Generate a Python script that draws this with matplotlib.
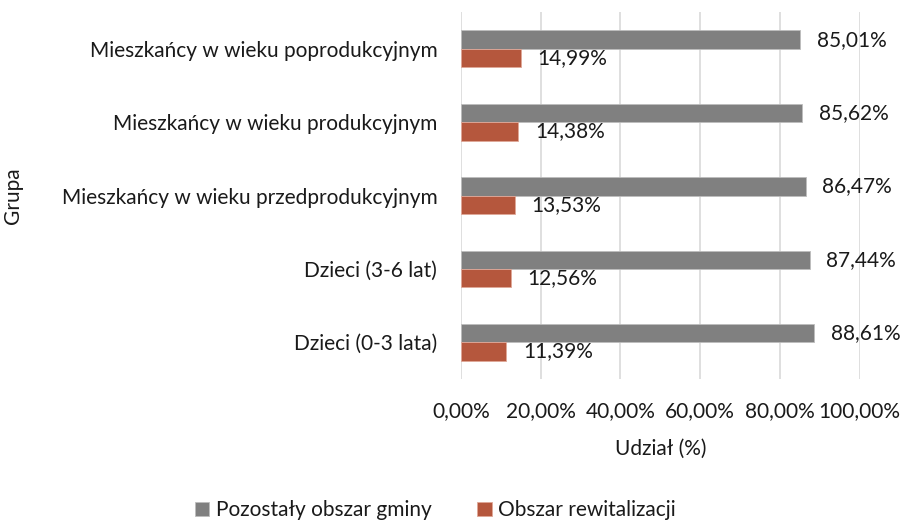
import numpy as np
import matplotlib.pyplot as plt

plt.rcParams['font.family'] = ['Lato', 'DejaVu Sans']

groups = ['Mieszkańcy w wieku poprodukcyjnym', 'Mieszkańcy w wieku produkcyjnym',
          'Mieszkańcy w wieku przedprodukcyjnym', 'Dzieci (3-6 lat)', 'Dzieci (0-3 lata)']
pozostaly = [85.01, 85.62, 86.47, 87.44, 88.61]
rewitalizacja = [14.99, 14.38, 13.53, 12.56, 11.39]
x_ticks = [0, 20, 40, 60, 80, 100]

c_grey = '#808080'
c_red = '#b5573d'
fs = 15

def pl(v):
    return '{:.2f}%'.format(v).replace('.', ',')

fig = plt.figure(figsize=(9.03, 5.26), dpi=100)
ax = fig.add_axes([0.5105, 0.2795, 0.4415, 0.6975])

y = np.arange(len(groups))
h = 0.25
b1 = ax.barh(y - h / 2, pozostaly, h, color=c_grey, edgecolor='#bdbdbd', linewidth=0.6,
             label='Pozostały obszar gminy')
b2 = ax.barh(y + h / 2, rewitalizacja, h, color=c_red, edgecolor='#e0a898', linewidth=0.6,
             label='Obszar rewitalizacji')
for bars, vals in ((b1, pozostaly), (b2, rewitalizacja)):
    ax.bar_label(bars, labels=[pl(v) for v in vals], padding=12, fontsize=fs, color='#1a1a1a')

ax.set_ylim(len(groups) - 0.5, -0.5)
ax.set_xlim(0, 100)
ax.set_yticks(y)
ax.set_yticklabels(groups)
ax.set_xticks(x_ticks)
ax.set_xticklabels([pl(v) for v in x_ticks])
ax.tick_params(axis='both', length=0, labelsize=fs, labelcolor='#1a1a1a')
ax.tick_params(axis='x', pad=16)
ax.tick_params(axis='y', pad=17)
ax.grid(axis='x', color='#d9d9d9', linewidth=1.2)
ax.set_axisbelow(True)
for s in ax.spines.values():
    s.set_visible(False)

ax.set_xlabel('Udział (%)', fontsize=fs, color='#1a1a1a', labelpad=13)
fig.text(0.014, 0.628, 'Grupa', rotation=90, fontsize=fs, color='#1a1a1a',
         ha='center', va='center')

fig.legend(loc='center', bbox_to_anchor=(0.482, 0.03), ncol=2, frameon=False,
           fontsize=fs, handlelength=0.7, handleheight=0.7, columnspacing=2.2,
           handletextpad=0.3, labelcolor='#1a1a1a', borderpad=0.1)

fig.savefig('out.png', dpi=100)
